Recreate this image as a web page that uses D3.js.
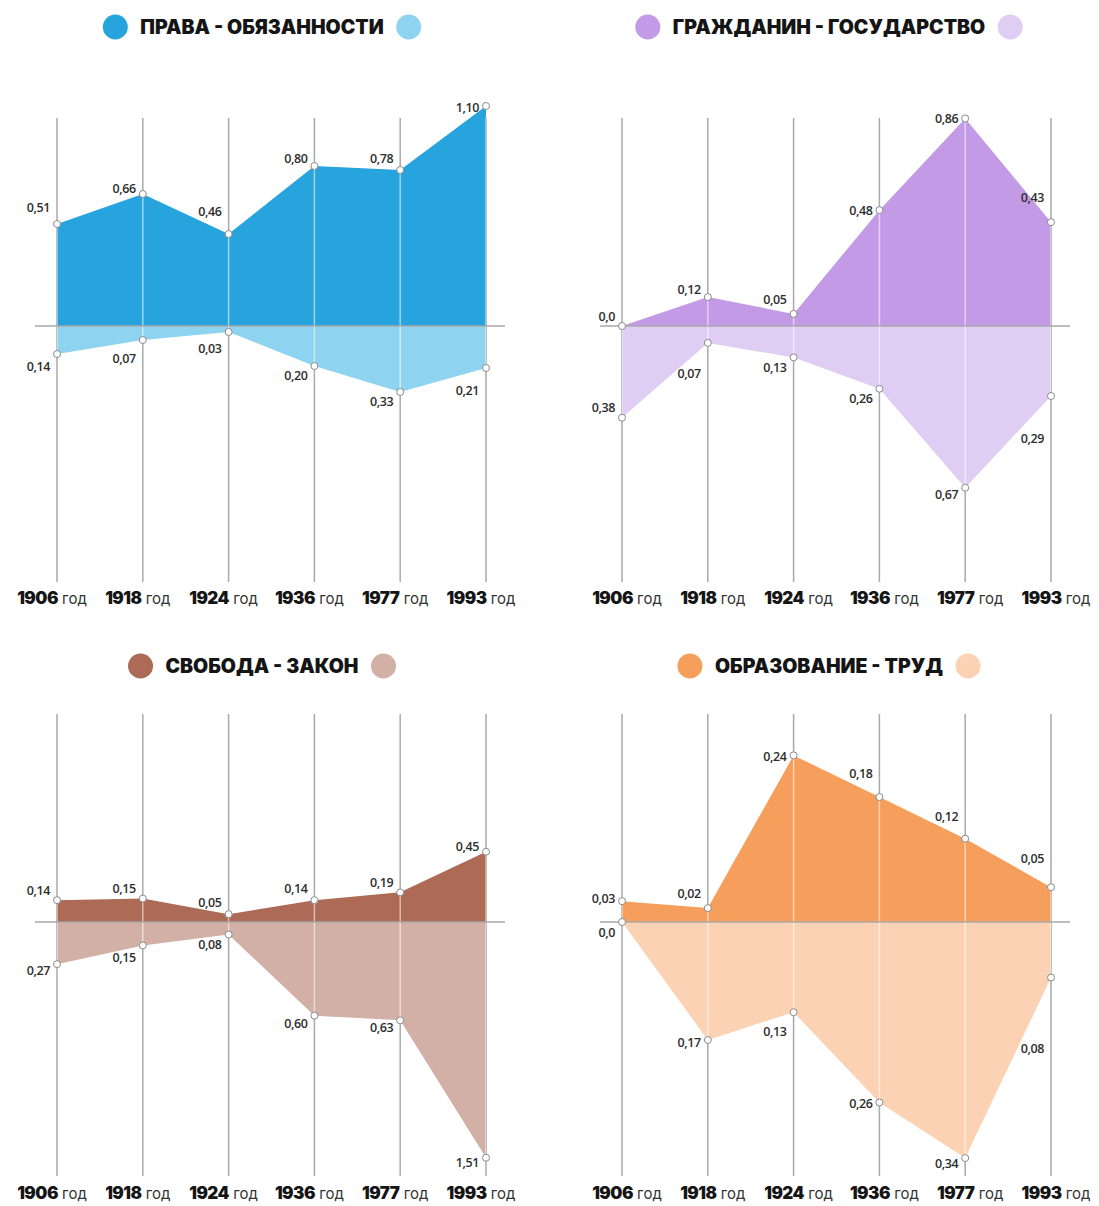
<!DOCTYPE html>
<html><head><meta charset="utf-8">
<script src="https://cdn.jsdelivr.net/npm/d3@7"></script>
<style>
html,body{margin:0;padding:0;background:#fff;}
svg{display:block;}
</style>
</head><body>
<svg id="chart" width="1099" height="1206"></svg>
<script>
// ---------- DATA ----------
const years = ["1906", "1918", "1924", "1936", "1977", "1993"];
const yearSuffix = "год";
const titles = ["ПРАВА - ОБЯЗАННОСТИ", "ГРАЖДАНИН - ГОСУДАРСТВО", "СВОБОДА - ЗАКОН", "ОБРАЗОВАНИЕ - ТРУД"];

const pravaUpper = [0.51, 0.66, 0.46, 0.80, 0.78, 1.10];
const pravaLower = [0.14, 0.07, 0.03, 0.20, 0.33, 0.21];
const grazhdUpper = [0.0, 0.12, 0.05, 0.48, 0.86, 0.43];
const grazhdLower = [0.38, 0.07, 0.13, 0.26, 0.67, 0.29];
const svobodaUpper = [0.14, 0.15, 0.05, 0.14, 0.19, 0.45];
const svobodaLower = [0.27, 0.15, 0.08, 0.60, 0.63, 1.51];
const obrazUpper = [0.03, 0.02, 0.24, 0.18, 0.12, 0.05];
const obrazLower = [0.0, 0.17, 0.13, 0.26, 0.34, 0.08];

// value shown at the top of each panel's scale
const scaleTop = [1.05, 0.87, 1.345, 0.3025];

// ---------- STYLE / LAYOUT ----------
const upperColors = ["#27a3dd", "#c39ae6", "#ac6a57", "#f69f5c"];
const lowerColors = ["#8ed3f0", "#dfcdf3", "#d3b0a5", "#fbd3b4"];

const panelDefs = [
  {up: pravaUpper, down: pravaLower, col: 0, row: 0},
  {up: grazhdUpper, down: grazhdLower, col: 1, row: 0},
  {up: svobodaUpper, down: svobodaLower, col: 0, row: 1},
  {up: obrazUpper, down: obrazLower, col: 1, row: 1}
];
const colX = [[57, 486], [622, 1051]];
const titleCx = [262, 829];
const rows = [
  {title: 27, base: 326, lineTop: 118, lineBot: 582, yearY: 604},
  {title: 666, base: 922, lineTop: 714, lineBot: 1176, yearY: 1199}
];
const yearDx = [-5, 5];
const UP_PX = 210, DOWN_PX = 236;

// label nudges (vertical, relative to point)
const labelDy = [
  {up: [-12, -1, -18, -3, -7, 6], down: [17, 23, 21, 14, 14, 27]},
  {up: [-5, -3, -10, 5, 5, -20], down: [-6, 35, 15, 14, 11, 47]},
  {up: [-5, -6, -7, -7, -5, -1], down: [11, 17, 15, 12, 12, 9]},
  {up: [2, -10, 6, -19, -18, -24], down: [15, 7, 24, 6, 10, 75]}
];

const fmt = v => v === 0 ? "0,0" : d3.format(".2f")(v).replace(".", ",");

const svg = d3.select("#chart");
const defs = svg.append("defs");

panelDefs.forEach((p, i) => {
  const r = rows[p.row];
  const g = svg.append("g");
  const x = d3.scalePoint().domain(years).range(colX[p.col]);
  const top = scaleTop[i];
  const y = d3.scaleLinear()
    .domain([-top * DOWN_PX / UP_PX, top])
    .range([r.base + DOWN_PX, r.base - UP_PX]);

  const upData = years.map((yr, j) => ({yr, v: p.up[j]}));
  const downData = years.map((yr, j) => ({yr, v: -p.down[j]}));

  // title
  const tt = g.append("text")
    .attr("x", titleCx[p.col]).attr("y", r.title)
    .attr("text-anchor", "middle").attr("dominant-baseline", "central")
    .style("font-family", "Inter, 'Noto Sans', sans-serif")
    .style("font-weight", 900).style("font-size", "19.5px")
    .style("fill", "#151515")
    .text(titles[i]);
  const tw = tt.node().getComputedTextLength();
  g.append("circle").attr("cx", titleCx[p.col] - tw / 2 - 25).attr("cy", r.title).attr("r", 12.5).attr("fill", upperColors[i]);
  g.append("circle").attr("cx", titleCx[p.col] + tw / 2 + 25).attr("cy", r.title).attr("r", 12.5).attr("fill", lowerColors[i]);

  // gray vertical lines (under areas)
  g.append("g").selectAll("line").data(years).join("line")
    .attr("x1", d => x(d)).attr("x2", d => x(d))
    .attr("y1", r.lineTop).attr("y2", r.lineBot)
    .attr("stroke", "#a9a9a9").attr("stroke-width", 1.5);

  const area = d3.area().x(d => x(d.yr)).y0(y(0)).y1(d => y(d.v));

  g.append("path").datum(upData).attr("d", area).attr("fill", upperColors[i]);
  g.append("path").datum(downData).attr("d", area).attr("fill", lowerColors[i]);

  // light lines over the areas
  const cid = "clip" + i;
  const cp = defs.append("clipPath").attr("id", cid);
  cp.append("path").datum(upData).attr("d", area);
  cp.append("path").datum(downData).attr("d", area);
  g.append("g").attr("clip-path", `url(#${cid})`)
    .selectAll("line").data(years).join("line")
    .attr("x1", d => x(d)).attr("x2", d => x(d))
    .attr("y1", r.lineTop).attr("y2", r.lineBot)
    .attr("stroke", "#ffffff").attr("stroke-opacity", 0.55).attr("stroke-width", 1.5);

  // baseline
  const [x0, x1] = colX[p.col];
  g.append("line")
    .attr("x1", x0 - 22).attr("x2", x1 + 19)
    .attr("y1", y(0)).attr("y2", y(0))
    .attr("stroke", "#a9a9a9").attr("stroke-width", 1.5);

  // points
  const pts = upData.concat(downData);
  g.append("g").selectAll("circle").data(pts).join("circle")
    .attr("cx", d => x(d.yr)).attr("cy", d => y(d.v)).attr("r", 3.5)
    .attr("fill", "#fff").attr("stroke", "#8a8a8a").attr("stroke-width", 1);

  // value labels
  const lab = g.append("g")
    .style("font-family", "'Open Sans', 'Noto Sans', sans-serif")
    .style("font-size", "12.5px").style("font-weight", 600)
    .style("letter-spacing", "-0.4px").style("fill", "#2e2e2e")
    .attr("text-anchor", "end");
  upData.forEach((d, j) => {
    lab.append("text").attr("x", x(d.yr) - 7).attr("y", y(d.v) + labelDy[i].up[j]).text(fmt(p.up[j]));
  });
  downData.forEach((d, j) => {
    lab.append("text").attr("x", x(d.yr) - 7).attr("y", y(d.v) + labelDy[i].down[j]).text(fmt(p.down[j]));
  });

  // year labels
  const yl = g.append("g").selectAll("text").data(years).join("text")
    .attr("x", d => x(d) + yearDx[p.col]).attr("y", r.yearY)
    .attr("text-anchor", "middle")
    .style("font-family", "Inter, 'Noto Sans', sans-serif");
  yl.append("tspan").style("font-weight", 900).style("font-size", "17px").style("fill", "#151515")
    .style("letter-spacing", "-0.5px").text(d => d);
  yl.append("tspan").style("font-weight", 400).style("font-size", "15px").style("fill", "#333")
    .text(" " + yearSuffix);
});
</script>
</body></html>
